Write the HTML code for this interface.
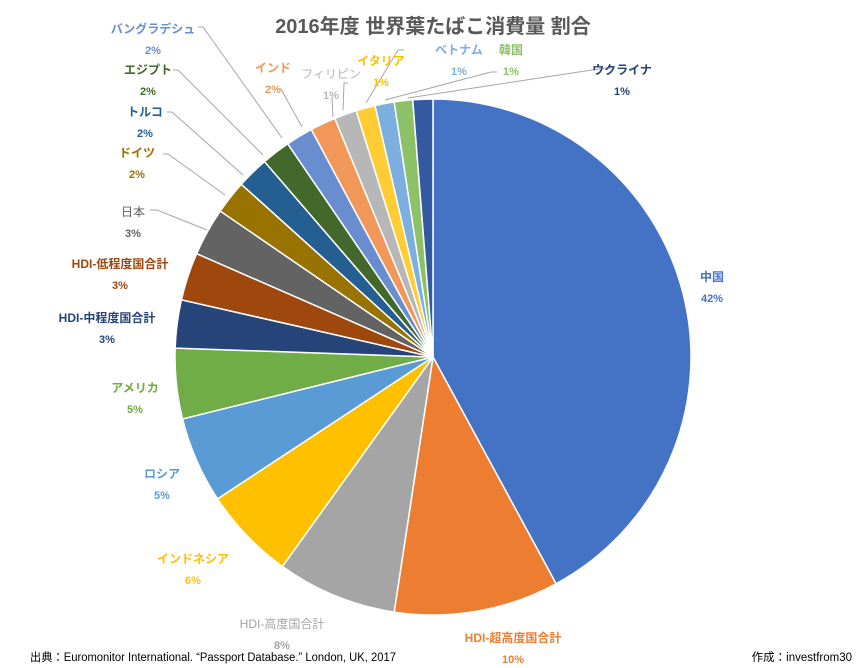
<!DOCTYPE html>
<html><head><meta charset="utf-8"><style>
body{margin:0;background:#fff;width:866px;height:668px;overflow:hidden}
svg{display:block}
text{font-family:"Liberation Sans Narrow","Liberation Sans","Noto Sans CJK JP",sans-serif;font-weight:bold;font-size:12px;text-anchor:middle}
</style></head><body>
<svg id="s" width="866" height="668" xmlns="http://www.w3.org/2000/svg">
<text x="433" y="33" style="font-size:20px;fill:#595959;font-family:'Liberation Sans','Noto Sans CJK JP',sans-serif">2016年度 世界葉たばこ消費量 割合</text>
<g id="pie"></g>
<g stroke="#a6a6a6" stroke-width="1" fill="none">
<polyline points="198,27 203,27 282,138"/>
<polyline points="173,70 178,70 263,155"/>
<polyline points="167,112 172,112 243,175"/>
<polyline points="163,154 168,154 225,195"/>
<polyline points="150,210 157,210 207,230"/>
<polyline points="277,89 281,89 302,127"/>
<polyline points="332,97 333,117"/>
<polyline points="348,83 344,83 343,110"/>
<polyline points="404,50 398,50 366,103"/>
<polyline points="497,72 491,72 385,100"/>
<polyline points="612,68 605,68 408,98"/>
</g>
<g id="lab"></g>
<text x="30" y="661" textLength="366" lengthAdjust="spacingAndGlyphs" style="font-size:11.5px;font-weight:normal;fill:#000;text-anchor:start">出典：Euromonitor International. “Passport Database.” London, UK, 2017</text>
<text x="852" y="661" style="font-size:11.5px;font-weight:normal;fill:#000;text-anchor:end">作成：investfrom30</text>
</svg>
<script>
var cx=433,cy=357,r=258;
var d=[
[42,"#4472C4","中国",712,277,"#4472C4"],
[10.3,"#ED7D31","HDI-超高度国合計",513,638,"#ED7D31"],
[7.5,"#A5A5A5","HDI-高度国合計",282,624,"#A5A5A5"],
[5.8,"#FFC000","インドネシア",193,559,"#FFC000"],
[5.4,"#5B9BD5","ロシア",162,474,"#5B9BD5"],
[4.4,"#70AD47","アメリカ",135,388,"#70AD47"],
[3.0,"#264478","HDI-中程度国合計",107,318,"#264478"],
[3.0,"#9E480E","HDI-低程度国合計",120,264,"#9E480E"],
[3.0,"#636363","日本",133,212,"#636363"],
[2.1,"#997300","ドイツ",137,153,"#997300"],
[2.0,"#255E91","トルコ",145,112,"#255E91"],
[1.8,"#43682B","エジプト",148,70,"#43682B"],
[1.7,"#698ED0","バングラデシュ",153,29,"#698ED0"],
[1.6,"#F1975A","インド",273,68,"#F1975A"],
[1.4,"#B7B7B7","フィリピン",331,74,"#B7B7B7"],
[1.2,"#FFCD33","イタリア",381,61,"#FFC000"],
[1.2,"#7CAFDD","ベトナム",459,50,"#7CAFDD"],
[1.15,"#8CC168","韓国",511,50,"#8CC168"],
[1.25,"#335AA1","ウクライナ",622,70,"#264478"]];
var pct=["42%","10%","8%","6%","5%","5%","3%","3%","3%","2%","2%","2%","2%","2%","1%","1%","1%","1%","1%"];
var tot=0;d.forEach(function(e){tot+=e[0]});
var a=0,pie="",lab="";
function pt(t){return [cx+r*Math.sin(t),cy-r*Math.cos(t)]}
d.forEach(function(e,i){
 var a2=a+e[0]/tot*2*Math.PI,p1=pt(a),p2=pt(a2),lg=(a2-a)>Math.PI?1:0;
 pie+='<path d="M'+cx+','+cy+' L'+p1[0].toFixed(2)+','+p1[1].toFixed(2)+' A'+r+','+r+' 0 '+lg+' 1 '+p2[0].toFixed(2)+','+p2[1].toFixed(2)+' Z" fill="'+e[1]+'" stroke="#fff" stroke-width="1.5"/>';
 a=a2;
 var w=(i==2||i==8||i==14)?'normal':'bold';
 var y=e[4]+4;
 lab+='<text x="'+e[3]+'" y="'+y+'" style="fill:'+e[5]+';font-weight:'+w+'">'+e[2]+'</text>';
 lab+='<text x="'+e[3]+'" y="'+(y+21)+'" style="fill:'+e[5]+';font-size:11px">'+pct[i]+'</text>';
});
document.getElementById('pie').innerHTML=pie;
document.getElementById('lab').innerHTML=lab;
</script>
</body></html>
